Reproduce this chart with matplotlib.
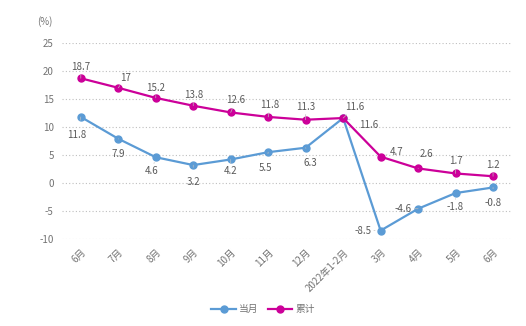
import matplotlib
matplotlib.use('Agg')
import matplotlib.pyplot as plt

plt.rcParams['font.family'] = ['Noto Sans CJK SC', 'DejaVu Sans']
plt.rcParams['axes.unicode_minus'] = False

# Data
months = ['6月', '7月', '8月', '9月', '10月', '11月', '12月', '2022年1-2月',
          '3月', '4月', '5月', '6月']
monthly = [11.8, 7.9, 4.6, 3.2, 4.2, 5.5, 6.3, 11.6, -8.5, -4.6, -1.8, -0.8]
cumulative = [18.7, 17, 15.2, 13.8, 12.6, 11.8, 11.3, 11.6, 4.7, 2.6, 1.7, 1.2]

# label offsets in pixels (dx, dy)
off_m = [(-4, -18), (0, -15), (-4, -14), (0, -17), (0, -12), (-3, -16),
         (5, -15), (26, -7), (-18, 0), (-15, 0), (0, -14), (0, -16)]
off_c = [(0, 11), (7, 10), (0, 10), (0, 11), (5, 12), (2, 12),
         (0, 13), (12, 11), (16, 5), (8, 14), (0, 12), (0, 11)]

blue = '#5B9BD5'
pink = '#CC0099'
gray = '#595959'

fig = plt.figure(figsize=(5.26, 3.26), dpi=100)
ax = fig.add_axes([0.118, 0.267, 0.855, 0.601])

x = list(range(len(months)))
ax.plot(x, monthly, color=blue, lw=1.6, marker='o', ms=5, label='当月', zorder=3)
ax.plot(x, cumulative, color=pink, lw=1.6, marker='o', ms=5, label='累计', zorder=3)

def label(xs, ys, offs):
    for xi, yi, (dx, dy) in zip(xs, ys, offs):
        ax.annotate('%g' % yi, (xi, yi), xytext=(dx, dy), textcoords='offset pixels',
                    ha='center', va='center', fontsize=7, color=gray,
                    arrowprops=dict(arrowstyle='-', color='#BFBFBF', lw=0.5,
                                    shrinkA=5, shrinkB=4))

label(x, monthly, off_m)
label(x, cumulative, off_c)

ax.set_xlim(-0.5, len(months) - 0.5)
ax.set_ylim(-10, 25)
ax.set_yticks(range(-10, 30, 5))
ax.set_xticks(x)
ax.set_xticklabels(months, rotation=45, ha='right', rotation_mode='anchor')
ax.tick_params(length=0, labelsize=7, colors='#737373', pad=6)
ax.yaxis.grid(True, linestyle=(0, (1, 2)), color='#BFBFBF', lw=0.8)
for s in ax.spines.values():
    s.set_visible(False)

fig.text(45 / 526, 1 - 22 / 326, '(%)', fontsize=7, color='#737373', ha='center', va='center')

fig.legend(loc='center', bbox_to_anchor=(0.5, 0.052), ncol=2, frameon=False,
           fontsize=7, labelcolor='#737373', handlelength=2.5, columnspacing=1.0,
           handletextpad=0.3)

fig.savefig('out.png', dpi=100)
